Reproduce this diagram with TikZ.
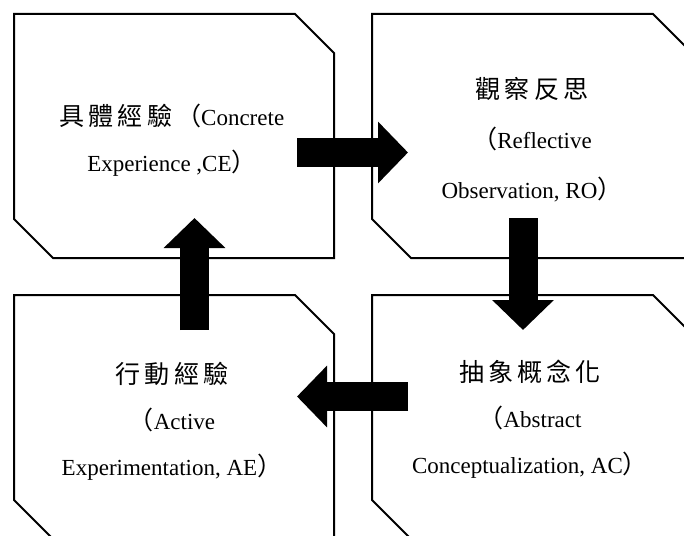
\documentclass[tikz,border=0pt]{standalone}
\usepackage{fontspec}
\setmainfont{Liberation Serif}
\newfontfamily\cjk[LetterSpace=16,Scale=1.09]{Noto Sans CJK TC}
\usetikzlibrary{arrows.meta}

\begin{document}
\begin{tikzpicture}[x=0.5pt,y=-0.5pt,
    box/.style={line width=1pt,line join=miter},
    stage/.style={align=center,font=\fontsize{11.5}{23}\selectfont},
    flow/.style={line width=14.5pt,-{Triangle[length=15pt,width=30pt]}}]

  \clip (0,0) rectangle (684,535);
  \fill[white] (0,0) rectangle (684,535);

  %Boxes
  \foreach \l/\t in {14/14,372/14,14/295,372/295}
  {
    \draw[box] (\l,\t) -- (\l+281,\t) -- (\l+320,\t+39) -- (\l+320,\t+244)
      -- (\l+39,\t+244) -- (\l,\t+205) -- cycle;
  }

  % Stages
  \node[stage] (ce) at (172,140) {{\cjk 具體經驗（}Concrete\\Experience ,CE{\cjk ）}};
  \node[stage,font=\fontsize{11.5}{25}\selectfont] (ro) at (532,140) {{\cjk 觀察反思}\\{\cjk （}Reflective\\Observation, RO{\cjk ）}};
  \node[stage] (ae) at (172,421) {{\cjk 行動經驗}\\{\cjk （}Active\\Experimentation, AE{\cjk ）}};
  \node[stage] (ac) at (530,419) {{\cjk 抽象概念化}\\{\cjk （}Abstract\\Conceptualization, AC{\cjk ）}};

  % Arrow ends
  \coordinate (ce-out) at (297,152.5);
  \coordinate (ro-in) at (408,152.5);
  \coordinate (ro-out) at (523,218);
  \coordinate (ac-in) at (523,330);
  \coordinate (ac-out) at (408,396.5);
  \coordinate (ae-in) at (297,396.5);
  \coordinate (ae-out) at (194.5,330);
  \coordinate (ce-in) at (194.5,218);

  % Cycle
  \draw[flow] (ce-out) -- (ro-in);
  \draw[flow] (ro-out) -- (ac-in);
  \draw[flow] (ac-out) -- (ae-in);
  \draw[flow] (ae-out) -- (ce-in);
\end{tikzpicture}
\end{document}
